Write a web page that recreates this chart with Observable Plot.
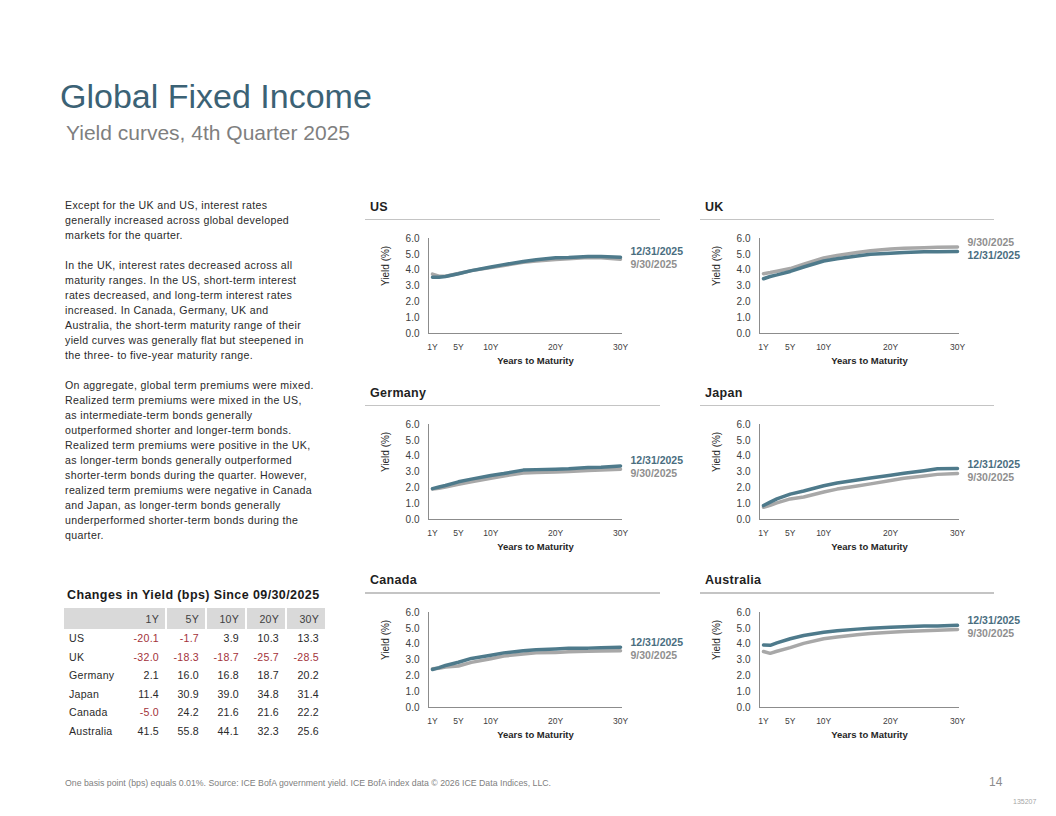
<!DOCTYPE html>
<html>
<head>
<meta charset="utf-8">
<script src="https://cdn.jsdelivr.net/npm/d3@7"></script>
<script src="https://cdn.jsdelivr.net/npm/@observablehq/plot@0.6"></script>
<style>
  html, body { margin: 0; padding: 0; background: #fff; }
  body { width: 1056px; height: 816px; position: relative; overflow: hidden; font-family: "Liberation Sans", Arial, sans-serif; }
  .abs { position: absolute; }
  #title { left: 60px; top: 76px; font-size: 34px; color: #3b6275; white-space: nowrap; line-height: 40px; }
  #subtitle { left: 66px; top: 120px; font-size: 21px; color: #7f7f7f; white-space: nowrap; line-height: 26px; }
  #body { left: 65px; top: 197.5px; font-size: 10.6px; line-height: 15px; color: #2a2a2a; letter-spacing: 0.35px; white-space: nowrap; }
  #tabletitle { left: 67px; top: 587px; font-size: 12.5px; font-weight: bold; color: #1a1a1a; letter-spacing: 0.4px; white-space: nowrap; line-height: 16px; }
  table { position: absolute; left: 64px; top: 608px; border-collapse: collapse; table-layout: fixed; width: 261px; font-size: 10.6px; letter-spacing: 0.25px; color: #2a2a2a; }
  th, td { box-sizing: border-box; }
  th { background: #d9d9d9; font-weight: normal; color: #404040; height: 21px; padding: 0 6px 0 0; text-align: right; }
  th.sep { box-shadow: inset 2px 0 0 #fff; }
  td { height: 18.5px; padding: 0 6px 0 0; text-align: right; }
  td.first { text-align: left; padding-left: 5px; }
  td.neg { color: #a3333a; }
  .ptitle { font-size: 12.5px; font-weight: bold; color: #1f1f1f; letter-spacing: 0.3px; white-space: nowrap; line-height: 16px; }
  .prule { height: 1.5px; background: #c4c4c4; }
  #footer { left: 65px; top: 777px; font-size: 8.75px; color: #808080; white-space: nowrap; line-height: 12px; }
  #page { left: 989px; top: 775px; font-size: 12px; color: #8c8c8c; }
  #code { left: 1013px; top: 798px; font-size: 7px; color: #a6a6a6; }
</style>
</head>
<body>
<div id="title" class="abs">Global Fixed Income</div>
<div id="subtitle" class="abs">Yield curves, 4th Quarter 2025</div>
<div id="body" class="abs"></div>
<div id="tabletitle" class="abs">Changes in Yield (bps) Since 09/30/2025</div>
<div id="tablewrap"></div>
<div id="footer" class="abs">One basis point (bps) equals 0.01%. Source: ICE BofA government yield. ICE BofA index data © 2026 ICE Data Indices, LLC.</div>
<div id="page" class="abs">14</div>
<div id="code" class="abs">135207</div>
<script>
// ---------- data ----------
const maturities = [1, 2, 3, 5, 7, 10, 12, 15, 17, 20, 22, 25, 27, 30];
const xTicks = [1, 5, 10, 20, 30];
const yTicks = [0, 1, 2, 3, 4, 5, 6];
const seriesNames = ["12/31/2025", "9/30/2025"];

const usDec = [3.55, 3.55, 3.60, 3.77, 3.97, 4.20, 4.35, 4.55, 4.66, 4.78, 4.80, 4.86, 4.86, 4.82];
const usSep = [3.75, 3.62, 3.62, 3.79, 3.97, 4.16, 4.30, 4.50, 4.58, 4.68, 4.72, 4.80, 4.78, 4.69];
const ukDec = [3.46, 3.60, 3.70, 3.92, 4.20, 4.58, 4.72, 4.90, 5.00, 5.07, 5.12, 5.17, 5.17, 5.18];
const ukSep = [3.78, 3.85, 3.93, 4.10, 4.38, 4.77, 4.93, 5.12, 5.22, 5.33, 5.38, 5.42, 5.44, 5.47];
const deDec = [1.95, 2.05, 2.15, 2.38, 2.55, 2.78, 2.90, 3.12, 3.15, 3.18, 3.20, 3.28, 3.30, 3.38];
const deSep = [1.93, 1.98, 2.05, 2.22, 2.38, 2.61, 2.75, 2.93, 2.97, 3.00, 3.03, 3.10, 3.12, 3.18];
const jpDec = [0.88, 1.10, 1.30, 1.60, 1.80, 2.13, 2.30, 2.50, 2.62, 2.80, 2.92, 3.08, 3.20, 3.22];
const jpSep = [0.77, 0.90, 1.05, 1.30, 1.42, 1.74, 1.92, 2.12, 2.25, 2.46, 2.60, 2.75, 2.85, 2.91];
const caDec = [2.40, 2.52, 2.65, 2.86, 3.10, 3.30, 3.45, 3.58, 3.65, 3.70, 3.75, 3.75, 3.77, 3.81];
const caSep = [2.45, 2.48, 2.55, 2.62, 2.85, 3.08, 3.25, 3.38, 3.45, 3.48, 3.52, 3.55, 3.57, 3.59];
const auDec = [3.95, 3.93, 4.08, 4.34, 4.55, 4.75, 4.85, 4.95, 5.00, 5.07, 5.10, 5.15, 5.15, 5.19];
const auSep = [3.54, 3.42, 3.55, 3.78, 4.05, 4.34, 4.45, 4.60, 4.68, 4.75, 4.80, 4.85, 4.88, 4.93];

const tableCountries = ["US", "UK", "Germany", "Japan", "Canada", "Australia"];
const tableTenors = ["1Y", "5Y", "10Y", "20Y", "30Y"];
const chgUS = [-20.1, -1.7, 3.9, 10.3, 13.3];
const chgUK = [-32.0, -18.3, -18.7, -25.7, -28.5];
const chgDE = [2.1, 16.0, 16.8, 18.7, 20.2];
const chgJP = [11.4, 30.9, 39.0, 34.8, 31.4];
const chgCA = [-5.0, 24.2, 21.6, 21.6, 22.2];
const chgAU = [41.5, 55.8, 44.1, 32.3, 25.6];

const bodyLines = [
  "Except for the UK and US, interest rates",
  "generally increased across global developed",
  "markets for the quarter.",
  "",
  "In the UK, interest rates decreased across all",
  "maturity ranges. In the US, short-term interest",
  "rates decreased, and long-term interest rates",
  "increased. In Canada, Germany, UK and",
  "Australia, the short-term maturity range of their",
  "yield curves was generally flat but steepened in",
  "the three- to five-year maturity range.",
  "",
  "On aggregate, global term premiums were mixed.",
  "Realized term premiums were mixed in the US,",
  "as intermediate-term bonds generally",
  "outperformed shorter and longer-term bonds.",
  "Realized term premiums were positive in the UK,",
  "as longer-term bonds generally outperformed",
  "shorter-term bonds during the quarter. However,",
  "realized term premiums were negative in Canada",
  "and Japan, as longer-term bonds generally",
  "underperformed shorter-term bonds during the",
  "quarter."
];

// ---------- text ----------
document.getElementById("body").innerHTML = bodyLines.map(l => l === "" ? "&nbsp;" : l).join("<br>");

// ---------- table ----------
const chgRows = [chgUS, chgUK, chgDE, chgJP, chgCA, chgAU];
let html = "<table><colgroup><col style='width:61px'>" + tableTenors.map(() => "<col style='width:40px'>").join("") + "</colgroup><thead><tr><th></th>";
tableTenors.forEach((t, i) => { html += `<th class='${i > 0 ? "sep" : ""}'>${t}</th>`; });
html += "</tr></thead><tbody>";
tableCountries.forEach((c, r) => {
  html += `<tr><td class='first'>${c}</td>`;
  chgRows[r].forEach(v => { html += `<td class='${v < 0 ? "neg" : ""}'>${v.toFixed(1)}</td>`; });
  html += "</tr>";
});
html += "</tbody></table>";
document.getElementById("tablewrap").innerHTML = html;

// ---------- charts ----------
const panels = [
  {name: "US", dec: usDec, sep: usSep, col: 0, row: 0},
  {name: "UK", dec: ukDec, sep: ukSep, col: 1, row: 0},
  {name: "Germany", dec: deDec, sep: deSep, col: 0, row: 1},
  {name: "Japan", dec: jpDec, sep: jpSep, col: 1, row: 1},
  {name: "Canada", dec: caDec, sep: caSep, col: 0, row: 2},
  {name: "Australia", dec: auDec, sep: auSep, col: 1, row: 2}
];

const colLeft = [360, 691];
const colPlotW = [194, 200];
const rowTop = [228, 414, 602];
const titleTop = [199, 385, 572];
const ruleTop = [218.5, 404.5, 592];
const ruleX = [[365, 660], [700, 994]];

const teal = "#4e7a8b", gray = "#a8a8a8";
const tealText = "#4a6e80", grayText = "#8f8f8f";

panels.forEach(p => {
  const t = document.createElement("div");
  t.className = "abs ptitle";
  t.style.left = (ruleX[p.col][0] + 5) + "px";
  t.style.top = titleTop[p.row] + "px";
  t.textContent = p.name;
  document.body.appendChild(t);
  const r = document.createElement("div");
  r.className = "abs prule";
  r.style.left = ruleX[p.col][0] + "px";
  r.style.width = (ruleX[p.col][1] - ruleX[p.col][0]) + "px";
  r.style.top = ruleTop[p.row] + "px";
  document.body.appendChild(r);

  const dec = maturities.map((m, i) => ({m, y: p.dec[i]}));
  const sep = maturities.map((m, i) => ({m, y: p.sep[i]}));
  const lastDec = p.dec[p.dec.length - 1], lastSep = p.sep[p.sep.length - 1];
  const mid = (lastDec + lastSep) / 2;
  const decTop = lastDec >= lastSep;
  const labels = [
    {text: seriesNames[0], fill: tealText, dy: decTop ? -6.5 : 6.5},
    {text: seriesNames[1], fill: grayText, dy: decTop ? 6.5 : -6.5}
  ];
  const pw = colPlotW[p.col];
  const ml = 68, mr = 70;
  const ppx = (30 - 1) / (pw - 6);
  const xmin = 1 - 4 * ppx, xmax = 30 + 2 * ppx;

  const svg = Plot.plot({
    width: ml + pw + mr,
    height: 145,
    marginLeft: ml, marginRight: mr, marginTop: 10, marginBottom: 40,
    x: {domain: [xmin, xmax]},
    y: {domain: [0, 6]},
    style: {fontFamily: "'Liberation Sans', Arial, sans-serif", fontSize: "10px", color: "#404040", background: "transparent", overflow: "visible"},
    marks: [
      Plot.axisY({ticks: yTicks, tickFormat: d => d.toFixed(1), tickSize: 0, tickPadding: 9, label: null, fontSize: 10}),
      Plot.axisX({ticks: xTicks, tickFormat: d => d + "Y", tickSize: 0, tickPadding: 10, label: null, fontSize: 8.5}),
      Plot.ruleY([0], {stroke: "#8c8c8c", strokeWidth: 1}),
      Plot.ruleX([xmin], {y1: 0, y2: 6, stroke: "#8c8c8c", strokeWidth: 1}),
      Plot.line(sep, {x: "m", y: "y", stroke: gray, strokeWidth: 3.5}),
      Plot.line(dec, {x: "m", y: "y", stroke: teal, strokeWidth: 3.5}),
      ...labels.map(l => Plot.text([l], {x: () => 30, y: () => mid, text: "text", fill: l.fill, dx: 10, dy: l.dy, textAnchor: "start", fontWeight: "bold", fontSize: 10.5})),
      Plot.text(["Yield (%)"], {frameAnchor: "left", dx: -43, rotate: -90, fontSize: 10, fill: "#262626"}),
      Plot.text(["Years to Maturity"], {frameAnchor: "bottom", dy: 30, dx: 10, fontSize: 9.5, fontWeight: "bold", fill: "#262626"})
    ]
  });
  svg.style.position = "absolute";
  svg.style.left = colLeft[p.col] + "px";
  svg.style.top = rowTop[p.row] + "px";
  document.body.appendChild(svg);
});
</script>
</body>
</html>
